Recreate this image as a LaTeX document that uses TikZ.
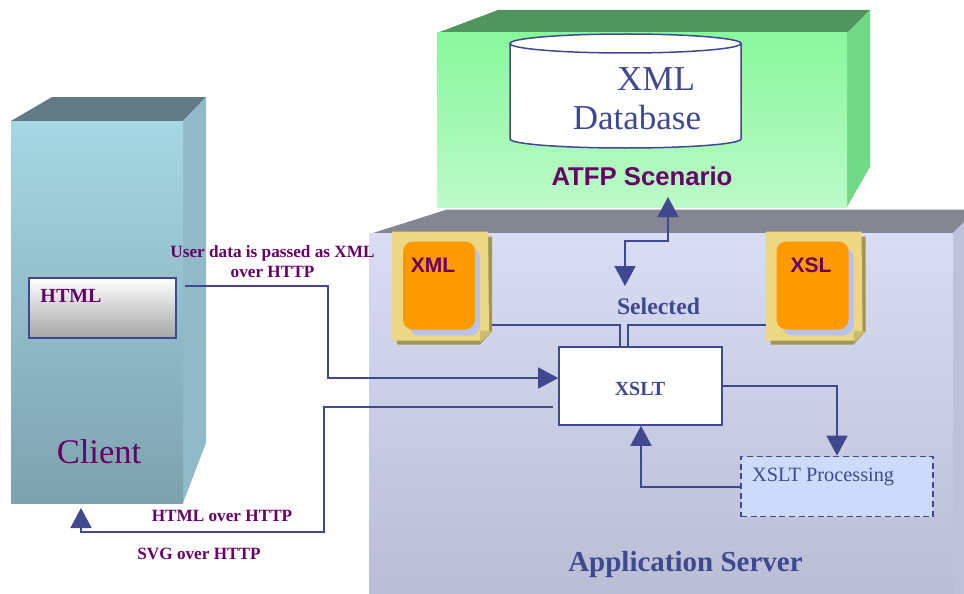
\documentclass[tikz,border=0pt]{standalone}
\usepackage{fontspec}
\setmainfont{Liberation Serif}
\newfontfamily\sansbold{Liberation Sans}[]
\usetikzlibrary{arrows.meta}
\definecolor{lnblue}{HTML}{404890}
\definecolor{purp}{HTML}{660066}
\definecolor{orng}{HTML}{FF9900}
\definecolor{tan1}{HTML}{EBD784}
\definecolor{tan2}{HTML}{A39558}
\definecolor{tan3}{HTML}{CDBB6E}
\definecolor{shad}{HTML}{B9C2E8}
\tikzset{
  x=1pt,y=-1pt,
  conn/.style={draw=lnblue,line width=1.6pt},
  tipped/.style={conn,-{Triangle[length=20pt,width=21pt]}},
  flow/.style={font=\bfseries\fontsize{17.2}{20}\selectfont,text=purp,align=center,inner sep=0pt},
  doclabel/.style={font=\sansbold\bfseries\fontsize{21}{24}\selectfont,text=purp,inner sep=0pt},
  dbtext/.style={text=lnblue,inner sep=0pt,font=\fontsize{35}{40}\selectfont},
}
\newcommand{\docicon}[2]{
  \begin{scope}[shift={(#1,#2)}]
    \fill[tan2] (5,5) -- (100,5) -- (100,100) -- (88,113) -- (5,113) -- cycle;
    \fill[tan1] (0,0) -- (96,0) -- (97,99) -- (88,109) -- (0,109) -- cycle;
    \fill[tan3] (88,111) -- (100,100) -- (88,99) -- cycle;
    \fill[shad,rounded corners=10pt] (17,16) rectangle (88,104);
    \fill[orng,rounded corners=10pt] (11,10) rectangle (83,98);
  \end{scope}
}
\begin{document}
\begin{tikzpicture}
\useasboundingbox (0,0) rectangle (964,594);
% Client box
\fill[color={rgb,255:red,97;green,122;blue,133}] (11,121)--(52,97)--(206,97)--(183,121)--cycle;
\fill[color={rgb,255:red,145;green,186;blue,200}] (183,121)--(206,97)--(206,443)--(183,503)--cycle;
\shade[top color={rgb,255:red,166;green,215;blue,228},bottom color={rgb,255:red,125;green,162;blue,174}] (11,121) rectangle (183,503);
% ATFP box
\fill[color={rgb,255:red,80;green,148;blue,94}] (437,33)--(498,10)--(870,10)--(847,33)--cycle;
\fill[color={rgb,255:red,112;green,216;blue,135}] (847,33)--(870,10)--(870,167)--(847,207)--cycle;
\shade[top color={rgb,255:red,136;green,248;blue,156},bottom color={rgb,255:red,188;green,249;blue,200}] (437,33) rectangle (847,207);
% Server box
\fill[color={rgb,255:red,132;green,134;blue,146}] (373,233)--(447,209.5)--(964,209.5)--(964,222)--(953,233)--cycle;
\fill[color={rgb,255:red,190;green,193;blue,215}] (953,233)--(964,222)--(964,594)--(953,594)--cycle;
\shade[top color={rgb,255:red,217;green,221;blue,243},bottom color={rgb,255:red,186;green,190;blue,213}] (369,233) rectangle (953,594);
% Database
\filldraw[fill=white,draw=lnblue,line width=1.5pt] (510,43.5) -- (510,139) arc[start angle=180,end angle=360,x radius=115.5,y radius=-9] -- (741,43.5) -- cycle;
\filldraw[fill=white,draw=lnblue,line width=1.5pt] (625.5,43.5) ellipse[x radius=115.5,y radius=9.5];
\node[dbtext] (dbt1) at (656,79) {XML};
\node[dbtext] (dbt2) at (637,118) {Database};
\node[font=\sansbold\bfseries\fontsize{25.7}{28}\selectfont,text=purp,inner sep=0pt] (atfp) at (642,176) {ATFP Scenario};
% Document icons
\docicon{392}{231.5}
\docicon{765.5}{231.5}
\node[doclabel] (xmll) at (433,265) {XML};
\node[doclabel] (xsll) at (811,265) {XSL};
% XSLT box
\node[draw=lnblue,line width=1.6pt,fill=white,minimum width=163pt,minimum height=78pt,inner sep=0pt] (xslt) at (640.5,386) {};
\node[font=\bfseries\fontsize{20}{22}\selectfont,text=lnblue,inner sep=0pt] (xsltl) at (640,388.5) {XSLT};
% Processing
\node[draw=lnblue,line width=1.7pt,dash pattern=on 6pt off 3.6pt,fill={rgb,255:red,204;green,219;blue,252},minimum width=192pt,minimum height=60pt,inner sep=0pt] (proc) at (837,486.5) {};
\node[font=\fontsize{20.3}{22}\selectfont,text=lnblue,inner sep=0pt,anchor=west] (procl) at (752,476.5) {XSLT Processing};
% HTML box
\node[draw=lnblue,line width=1.6pt,top color=white,bottom color={rgb,255:red,165;green,165;blue,165},minimum width=147pt,minimum height=60pt,inner sep=0pt] (html) at (102.5,308) {};
\node[font=\bfseries\fontsize{20}{22}\selectfont,text=purp,inner sep=0pt] (htmll) at (71,296) {HTML};
% Labels
\node[flow] (l1) at (272.5,262) {User data is passed as XML\\over HTTP};
\node[flow] (l2) at (222,516) {HTML over HTTP};
\node[flow] (l3) at (199,554) {SVG over HTTP};
\node[font=\bfseries\fontsize{23.7}{26}\selectfont,text=lnblue,inner sep=0pt] (sel) at (658.5,306.5) {Selected};
\node[font=\fontsize{34.5}{40}\selectfont,text=purp,inner sep=0pt] (client) at (99,452) {Client};
\node[font=\bfseries\fontsize{29}{32}\selectfont,text=lnblue,inner sep=0pt] (appl) at (685.5,565) {Application Server};
% Coordinates
\coordinate (a1) at (185,286);
\coordinate (a2) at (553,407);
\coordinate (cl) at (81,508);
\coordinate (up) at (668,197);
\coordinate (dn) at (625,286);
\coordinate (xmlout) at (492,325);
\coordinate (xslout) at (765.5,325);
% Connectors
\draw[tipped] (a1) -| (328,378) -- (xslt.west |- 0,378);
\draw[tipped] (a2) -- (324,407) |- (81,532) -- (cl);
\draw[conn,{Triangle[length=20pt,width=21pt]}-{Triangle[length=20pt,width=21pt]}] (dn) -- (625,241) -- (668,241) -- (up);
\draw[conn] (xmlout) -| (620,346);
\draw[conn] (xslout) -| (628,346);
\draw[tipped] (xslt.east |- 0,386) -- (837,386) -- (proc.north);
\draw[tipped] (proc.west |- 0,487) -- (641,487) -- (xslt.south -| 641,0);
\end{tikzpicture}
\end{document}
